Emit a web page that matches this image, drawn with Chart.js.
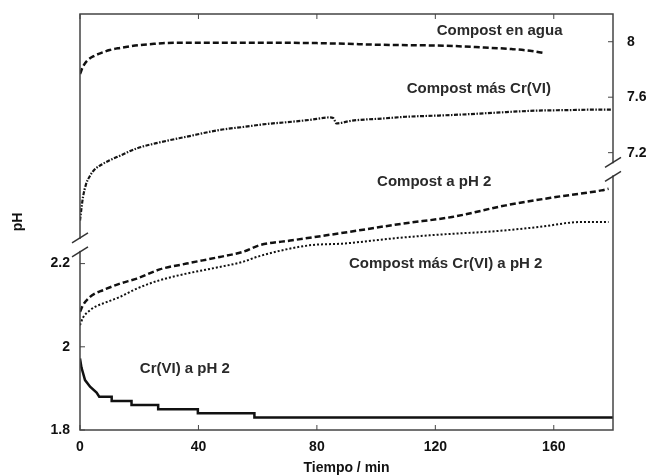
<!DOCTYPE html>
<html>
<head>
<meta charset="utf-8">
<script src="https://cdn.jsdelivr.net/npm/chart.js@4"></script>
<style>
  html, body { margin: 0; padding: 0; background: #fff; }
</style>
</head>
<body>
<canvas id="myChart" width="650" height="475"></canvas>
<script>
// tiempo en min, pH
const aguaT  = [0, 1, 2.4, 5, 7.7, 10, 13.5, 17, 20.2, 25, 29.3, 40, 60, 80, 90, 101, 112, 123.6, 135, 145.8, 152, 156.6];
const aguaPH = [7.767, 7.82, 7.863, 7.90, 7.923, 7.94, 7.955, 7.967, 7.976, 7.985, 7.991, 7.993, 7.993, 7.99, 7.985, 7.978, 7.975, 7.971, 7.96, 7.947, 7.935, 7.919];

const crT  = [0, 0.5, 1, 2, 3.4, 5, 7.7, 10, 13.5, 19.2, 26.9, 36, 47.2, 55, 63, 70, 77.5, 84.2, 85.5, 86.6, 91.9, 102.7, 110.1, 120.2, 128, 140, 153.9, 165, 172.8, 179.5];
const crPH = [6.71, 6.80, 6.878, 6.97, 7.034, 7.08, 7.119, 7.145, 7.178, 7.231, 7.274, 7.315, 7.364, 7.385, 7.407, 7.42, 7.436, 7.454, 7.45, 7.411, 7.431, 7.447, 7.459, 7.467, 7.474, 7.488, 7.503, 7.507, 7.51, 7.51];

const ph2T  = [0, 1, 3.4, 5, 7.7, 13.5, 19.2, 26.9, 36, 47.2, 54.9, 60.6, 71.7, 83.2, 94.3, 108.8, 125.6, 143.8, 160.7, 176.1, 178.5];
const ph2PH = [2.084, 2.10, 2.12, 2.128, 2.136, 2.152, 2.164, 2.186, 2.20, 2.216, 2.228, 2.244, 2.256, 2.268, 2.28, 2.296, 2.312, 2.34, 2.36, 2.376, 2.38];

const crPh2T  = [0, 1, 3.4, 5, 7.7, 13.5, 19.2, 26.9, 36, 47.2, 54.9, 60.6, 77.5, 88.6, 107.8, 122, 140.4, 154.9, 169.4, 178.5];
const crPh2PH = [2.052, 2.07, 2.088, 2.096, 2.104, 2.12, 2.14, 2.16, 2.176, 2.192, 2.204, 2.218, 2.244, 2.248, 2.262, 2.27, 2.278, 2.288, 2.30, 2.30];

const cr6T  = [0, 0.5, 1.7, 3.4, 5.6, 6.5, 10.7, 10.7, 17.4, 17.4, 26.4, 26.4, 39.8, 39.8, 58.9, 58.9, 180];
const cr6PH = [1.972, 1.95, 1.92, 1.904, 1.89, 1.88, 1.88, 1.87, 1.87, 1.86, 1.86, 1.85, 1.85, 1.84, 1.84, 1.83, 1.83];

const xTicks = [0, 40, 80, 120, 160];
const leftTicks = [1.8, 2, 2.2];
const rightTicks = [7.2, 7.6, 8];
const leftBreak = 2.245;
const rightBreak = 7.08;

const noteText = ['Compost en agua', 'Compost más Cr(VI)', 'Compost a pH 2', 'Compost más Cr(VI) a pH 2', 'Cr(VI) a pH 2'];
const noteT    = [141.7, 134.7, 119.6, 123.5, 35.4];
const notePH   = [8.079, 7.659, 2.396, 2.2, 1.948];
const noteAxis = ['y2', 'y2', 'y', 'y', 'y'];

function pts(ts, vs) {
  return ts.map((t, i) => ({x: t, y: vs[i]}));
}

const FONT = '"Liberation Sans", Arial, sans-serif';

function seg(ctx, x1, y1, x2, y2) {
  ctx.beginPath();
  ctx.moveTo(x1, y1);
  ctx.lineTo(x2, y2);
  ctx.stroke();
}

function noPad(s) {
  s.paddingTop = 0;
  s.paddingBottom = 0;
  s.paddingLeft = 0;
  s.paddingRight = 0;
}

const frame = {
  id: 'frame',
  afterDatasetsDraw(chart) {
    const {ctx, chartArea: a, scales} = chart;
    ctx.save();
    ctx.strokeStyle = '#444';
    ctx.lineWidth = 1.5;
    ctx.strokeRect(a.left, a.top, a.right - a.left, a.bottom - a.top);

    // marcas hacia dentro
    ctx.lineWidth = 1;
    xTicks.forEach(v => {
      const px = scales.x.getPixelForValue(v);
      seg(ctx, px, a.bottom, px, a.bottom - 5);
      seg(ctx, px, a.top, px, a.top + 5);
    });
    leftTicks.forEach(v => {
      const py = scales.y.getPixelForValue(v);
      seg(ctx, a.left, py, a.left + 5, py);
    });
    rightTicks.forEach(v => {
      const py = scales.y2.getPixelForValue(v);
      seg(ctx, a.right, py, a.right - 5, py);
    });

    // cortes de eje
    const breaks = [[a.left, scales.y.getPixelForValue(leftBreak)], [a.right, scales.y2.getPixelForValue(rightBreak)]];
    breaks.forEach(([bx, by]) => {
      ctx.fillStyle = '#fff';
      ctx.fillRect(bx - 3, by - 6, 6, 12);
      ctx.strokeStyle = '#333';
      ctx.lineWidth = 1.5;
      seg(ctx, bx - 8, by - 2, bx + 8, by - 12);
      seg(ctx, bx - 8, by + 12, bx + 8, by + 2);
    });

    // textos
    ctx.font = 'bold 15px ' + FONT;
    ctx.fillStyle = '#2a2a2a';
    ctx.textAlign = 'center';
    ctx.textBaseline = 'middle';
    noteText.forEach((txt, i) => {
      const ys = scales[noteAxis[i]];
      ctx.fillText(txt, scales.x.getPixelForValue(noteT[i]), ys.getPixelForValue(notePH[i]));
    });
    ctx.restore();
  }
};

const fmt = v => String(Math.round(v * 10) / 10);

new Chart(document.getElementById('myChart'), {
  type: 'line',
  data: {
    datasets: [
      { label: 'Compost en agua', data: pts(aguaT, aguaPH), yAxisID: 'y2',
        borderColor: '#111', borderWidth: 2.5, borderDash: [6, 3], cubicInterpolationMode: 'monotone' },
      { label: 'Compost más Cr(VI)', data: pts(crT, crPH), yAxisID: 'y2',
        borderColor: '#161616', borderWidth: 2.2, borderDash: [4, 1.5, 1.5, 1.5], cubicInterpolationMode: 'monotone' },
      { label: 'Compost a pH 2', data: pts(ph2T, ph2PH), yAxisID: 'y',
        borderColor: '#111', borderWidth: 2.5, borderDash: [6, 3], cubicInterpolationMode: 'monotone' },
      { label: 'Compost más Cr(VI) a pH 2', data: pts(crPh2T, crPh2PH), yAxisID: 'y',
        borderColor: '#111', borderWidth: 2, borderDash: [2, 2], cubicInterpolationMode: 'monotone' },
      { label: 'Cr(VI) a pH 2', data: pts(cr6T, cr6PH), yAxisID: 'y',
        borderColor: '#111', borderWidth: 2.5, tension: 0 }
    ]
  },
  options: {
    responsive: false,
    animation: false,
    layout: { padding: { top: 14, left: 0, right: 0, bottom: 0 } },
    elements: { point: { radius: 0 } },
    plugins: { legend: { display: false }, tooltip: { enabled: false } },
    scales: {
      x: {
        type: 'linear', position: 'bottom', min: 0, max: 180,
        afterBuildTicks: s => { s.ticks = xTicks.map(v => ({value: v})); },
        afterFit: s => { s.height = 45; noPad(s); },
        grid: { display: false, drawTicks: false },
        border: { display: false },
        ticks: { color: '#111', padding: 9, font: { family: FONT, size: 14, weight: 'bold' }, callback: fmt },
        title: { display: true, text: 'Tiempo / min', color: '#111', padding: 0,
                 font: { family: FONT, size: 14, weight: 'bold', lineHeight: 1 } }
      },
      y: {
        position: 'left', min: 1.8, max: 2.8,
        afterBuildTicks: s => { s.ticks = leftTicks.map(v => ({value: v})); },
        afterFit: s => { s.width = 80; noPad(s); },
        grid: { display: false, drawTicks: false },
        border: { display: false },
        ticks: { color: '#111', padding: 10, font: { family: FONT, size: 14, weight: 'bold' }, callback: fmt },
        title: { display: true, text: 'pH', color: '#111', padding: { top: 10, bottom: 0 },
                 font: { family: FONT, size: 14, weight: 'bold' } }
      },
      y2: {
        position: 'right', min: 5.2, max: 8.2,
        afterBuildTicks: s => { s.ticks = rightTicks.map(v => ({value: v})); },
        afterFit: s => { s.width = 37; noPad(s); },
        grid: { display: false, drawTicks: false },
        border: { display: false },
        ticks: { color: '#111', padding: 14, font: { family: FONT, size: 14, weight: 'bold' }, callback: fmt }
      }
    }
  },
  plugins: [frame]
});
</script>
</body>
</html>
